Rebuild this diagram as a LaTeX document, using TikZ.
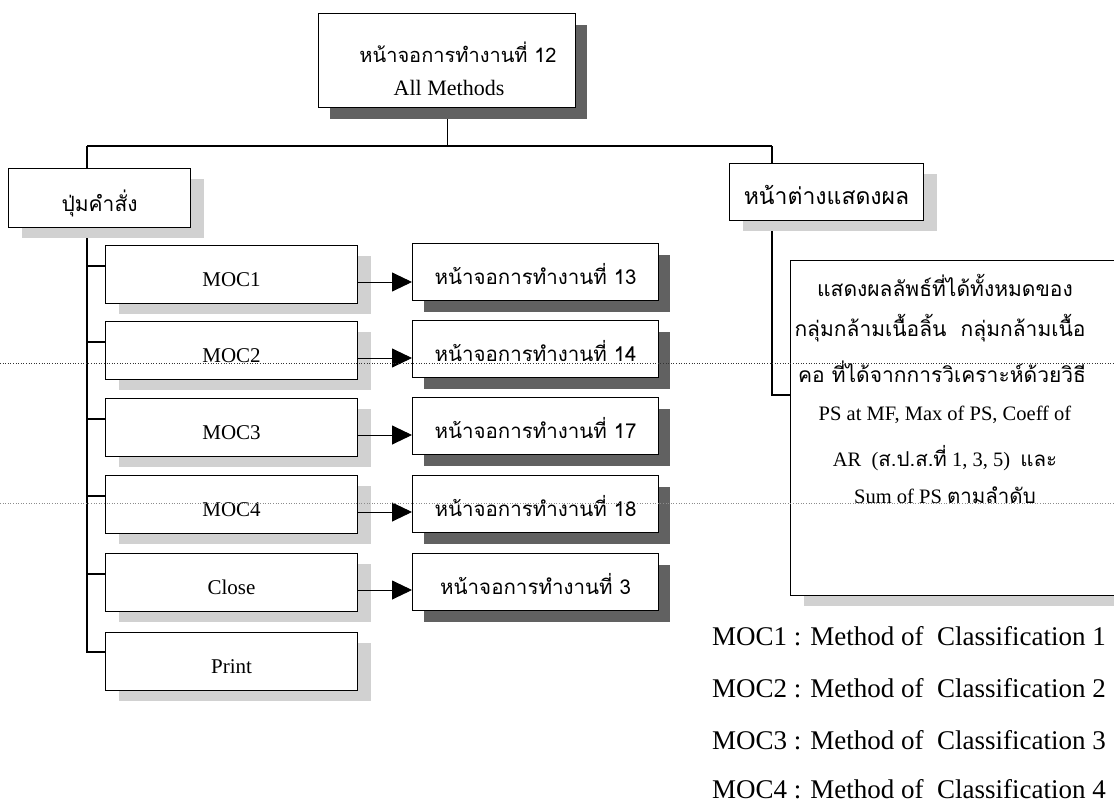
\documentclass[tikz,border=0pt]{standalone}
\usepackage{fontspec}
\setmainfont{Liberation Serif}
\newfontfamily\thai[Script=Thai]{Loma}
\usetikzlibrary{arrows.meta,shadows,calc,backgrounds}

\begin{document}
\begin{tikzpicture}[x=1pt,y=-1pt,
  frame/.style={draw=black, line width=1.1pt, fill=white, inner sep=0pt,
    anchor=north west, align=center},
  darkshade/.style={drop shadow={shadow xshift=11pt, shadow yshift=-11pt,
    fill=black!62, opacity=1}},
  lightshade/.style={drop shadow={shadow xshift=13pt, shadow yshift=-10pt,
    fill=black!18, opacity=1}},
  leftbox/.style={frame, lightshade, minimum width=252pt, minimum height=58pt,
    text height=24pt, text depth=0pt, font=\fontsize{21}{24}\selectfont},
  screenbox/.style={frame, darkshade, minimum width=246pt, minimum height=57pt,
    text height=24pt, text depth=0pt, font=\thai\fontsize{20.5}{24}\selectfont},
  link/.style={line width=1.1pt},
  arr/.style={line width=0.9pt, -{Triangle[length=20pt,width=19pt]}},
  txt/.style={inner sep=0pt, align=center},
  legend/.style={inner sep=0pt, anchor=west, font=\fontsize{27}{30}\selectfont},
  foldline/.style={line width=0.6pt, dotted}
]
\clip (0,0) rectangle (1114,803);

% main screen
\node[frame, darkshade, minimum width=257pt, minimum height=94pt] (top) at (318,13) {};
\node[txt, font=\thai\fontsize{20}{24}\selectfont] (toptitle) at (458,52) {หน้าจอการทำงานที่ 12};
\node[txt, font=\fontsize{22}{24}\selectfont] (topsub) at (449,88) {All Methods};

% the two groups
\node[frame, lightshade, minimum width=182pt, minimum height=59pt,
  text height=26pt, text depth=0pt,
  font=\thai\fontsize{21}{24}\selectfont] (cmd) at (8,168) {ปุ่มคำสั่ง};
\node[frame, lightshade, minimum width=194pt, minimum height=57pt,
  text height=24pt, text depth=0pt,
  font=\thai\fontsize{23}{24}\selectfont] (win) at (729,163) {หน้าต่างแสดงผล};

% command buttons
\node[leftbox] (moc1) at (105,245) {MOC1};
\node[leftbox] (moc2) at (105,321) {MOC2};
\node[leftbox] (moc3) at (105,398) {MOC3};
\node[leftbox] (moc4) at (105,475) {MOC4};
\node[leftbox] (close) at (105,553) {Close};
\node[leftbox] (print) at (105,632) {Print};

% target screens
\node[screenbox] (s13) at (412,243) {หน้าจอการทำงานที่ 13};
\node[screenbox] (s14) at (412,320) {หน้าจอการทำงานที่ 14};
\node[screenbox] (s17) at (412,397) {หน้าจอการทำงานที่ 17};
\node[screenbox] (s18) at (412,475) {หน้าจอการทำงานที่ 18};
\node[screenbox] (s3) at (412,553) {หน้าจอการทำงานที่ 3};

% result window
\node[frame, lightshade, minimum width=340pt, minimum height=335pt] (res) at (790,260) {};
\node[txt, font=\thai\fontsize{21}{24}\selectfont] (r1) at (945,285) {แสดงผลลัพธ์ที่ได้ทั้งหมดของ};
\node[txt, font=\thai\fontsize{21}{24}\selectfont] (r2) at (940,328) {กลุ่มกล้ามเนื้อลิ้น\ \ กลุ่มกล้ามเนื้อ};
\node[txt, font=\thai\fontsize{21}{24}\selectfont] (r3) at (942,372) {คอ ที่ได้จากการวิเคราะห์ด้วยวิธี};
\node[txt, font=\fontsize{20.5}{24}\selectfont] (r4) at (945,415) {PS at MF, Max of PS, Coeff of};
\node[txt, font=\fontsize{20.5}{24}\selectfont] (r5) at (945,458) {AR\ \ ({\thai ส.ป.ส.ที่} 1, 3, 5)\ \ {\thai และ}};
\node[txt, font=\fontsize{20.5}{24}\selectfont] (r6) at (945,495) {Sum of PS {\thai ตามลำดับ}};

% legend
\node[legend] (l1) at (712,636) {MOC1 : Method of\ \ Classification 1};
\node[legend] (l2) at (712,688) {MOC2 : Method of\ \ Classification 2};
\node[legend] (l3) at (712,740) {MOC3 : Method of\ \ Classification 3};
\node[legend] (l4) at (712,789) {MOC4 : Method of\ \ Classification 4};

% connectors, kept behind the boxes
\begin{scope}[on background layer]
  \fill[white] (0,0) rectangle (1114,803);
  \coordinate (hl) at (87,146);
  \coordinate (hr) at (772,146);
  \draw[link] (top.south) -- (top.south |- hl);
  \draw[link] (hl) -- (hr);
  \draw[link] (hl) |- ($(print.north west)+(0,20)$);
  \foreach \b in {moc1,moc2,moc3,moc4,close}
    \draw[link] (hl |- {$(\b.north west)+(0,21)$}) -- ($(\b.north west)+(0,21)$);
  \draw[link] (hr) |- ($(res.north west)+(0,135)$);
\end{scope}

\foreach \a/\b in {moc1/s13,moc2/s14,moc3/s17,moc4/s18,close/s3}{
  \coordinate (o-\a) at ($(\a.north east)+(0,37)$);
  \draw[arr] (o-\a) -- (o-\a -| \b.west);
}

% fold marks of the sheet
\draw[foldline, black!80] (0,363) -- (1114,363);
\draw[foldline, black!45] (0,503) -- (1114,503);
\end{tikzpicture}
\end{document}
